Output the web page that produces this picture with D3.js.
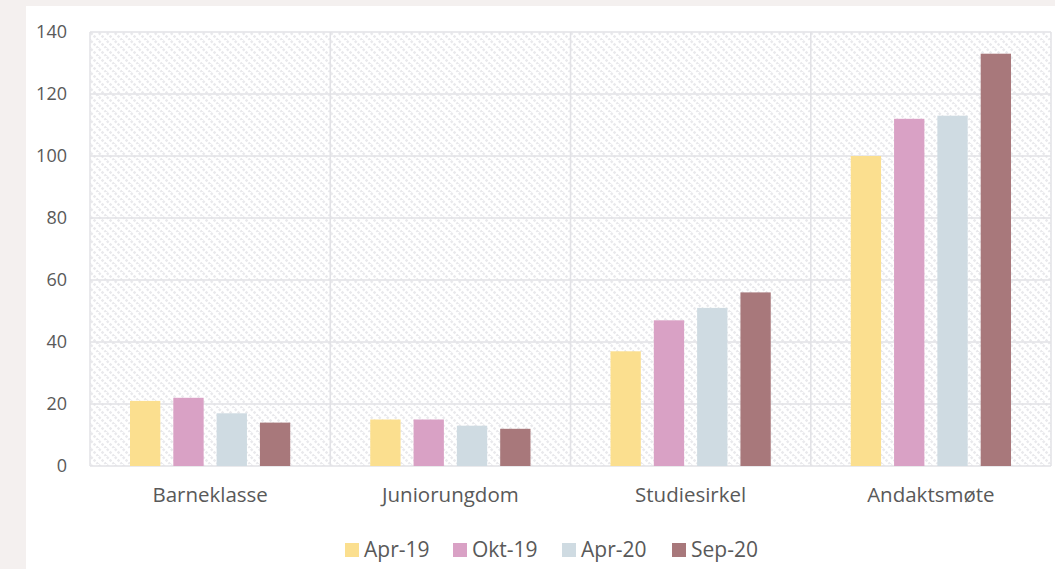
<!DOCTYPE html>
<html>
<head>
<meta charset="utf-8">
<script src="https://cdn.jsdelivr.net/npm/d3@7"></script>
<style>
  body { margin: 0; background: #f4f0ef; }
  svg { display: block; }
</style>
</head>
<body>
<div id="chart"></div>
<script>
    'use strict';

    var categories = ["Barneklasse", "Juniorungdom", "Studiesirkel", "Andaktsmøte"];
    var seriesNames = ["Apr-19", "Okt-19", "Apr-20", "Sep-20"];
    var apr19 = [21, 15, 37, 100];
    var okt19 = [22, 15, 47, 112];
    var apr20 = [17, 13, 51, 113];
    var sep20 = [14, 12, 56, 133];
    var yTicks = [0, 20, 40, 60, 80, 100, 120, 140];

    var colors = ["#fbdf8f", "#d9a1c5", "#cfdbe2", "#a8787b"];
    var seriesValues = [apr19, okt19, apr20, sep20];

    var width = 1055, height = 569;
    var margin = {top: 32, right: 4, bottom: 103, left: 90},
        innerW = width - margin.left - margin.right,
        innerH = height - margin.top - margin.bottom;

    var svg = d3.select("#chart").append("svg")
        .attr("width", width)
        .attr("height", height);

    // white panel
    svg.append("rect")
        .attr("x", 26).attr("y", 6)
        .attr("width", width - 26).attr("height", height - 6)
        .attr("fill", "#ffffff");

    // diagonal hatch behind the bars
    var defs = svg.append("defs");
    var pat = defs.append("pattern")
        .attr("id", "hatch")
        .attr("patternUnits", "userSpaceOnUse")
        .attr("width", 8).attr("height", 8);
    pat.append("path")
        .attr("d", "M-2,-2 L10,10 M-6,2 L2,10 M6,-2 L10,2")
        .attr("stroke", "#e9e9ec")
        .attr("stroke-width", 2.4)
        .attr("stroke-dasharray", "2.5,1.5");

    var g = svg.append("g")
        .attr("transform", "translate(" + margin.left + "," + margin.top + ")");

    var x0 = d3.scaleBand().domain(categories).range([0, innerW]).paddingInner(0).paddingOuter(0);
    var x1 = d3.scaleBand().domain(seriesNames).range([40, x0.bandwidth() - 40]).paddingInner(0.3);
    var y = d3.scaleLinear().domain([0, 140]).range([innerH, 0]);

    g.append("rect")
        .attr("width", innerW).attr("height", innerH)
        .attr("fill", "url(#hatch)");

    // horizontal grid
    g.append("g")
        .selectAll("line")
        .data(yTicks)
        .join("line")
        .attr("x1", 0).attr("x2", innerW)
        .attr("y1", function(d) { return y(d); })
        .attr("y2", function(d) { return y(d); })
        .attr("stroke", "#e2e2e6")
        .attr("stroke-width", 1.5);

    // vertical grid at category boundaries
    var bounds = categories.map(function(c) { return x0(c); }).concat([innerW]);
    g.append("g")
        .selectAll("line")
        .data(bounds)
        .join("line")
        .attr("x1", function(d) { return d; })
        .attr("x2", function(d) { return d; })
        .attr("y1", 0).attr("y2", innerH)
        .attr("stroke", "#e2e2e6")
        .attr("stroke-width", 1.5);

    // bars
    var groups = g.selectAll(".grp")
        .data(categories)
        .join("g")
        .attr("class", "grp")
        .attr("transform", function(c) { return "translate(" + x0(c) + ",0)"; });

    groups.selectAll("rect")
        .data(function(c, i) {
            return seriesNames.map(function(s, j) {
                return {series: s, value: seriesValues[j][i], color: colors[j]};
            });
        })
        .join("rect")
        .attr("x", function(d) { return x1(d.series); })
        .attr("y", function(d) { return y(d.value); })
        .attr("width", x1.bandwidth())
        .attr("height", function(d) { return innerH - y(d.value); })
        .attr("fill", function(d) { return d.color; });

    // y axis
    var yAxis = g.append("g")
        .call(d3.axisLeft(y).tickValues(yTicks).tickSize(0).tickPadding(23));
    yAxis.select(".domain").remove();
    yAxis.selectAll("text")
        .attr("fill", "#595959")
        .style("font-family", "'Open Sans', sans-serif")
        .style("font-size", "18px");

    // x axis
    var xAxis = g.append("g")
        .attr("transform", "translate(0," + innerH + ")")
        .call(d3.axisBottom(x0).tickSize(0).tickPadding(21));
    xAxis.select(".domain").remove();
    xAxis.selectAll("text")
        .attr("fill", "#595959")
        .style("font-family", "'Open Sans', sans-serif")
        .style("font-size", "20.5px");

    // legend
    var legendX = [345, 453, 562, 672];
    var legend = svg.append("g")
        .selectAll("g")
        .data(seriesNames)
        .join("g")
        .attr("transform", function(d, i) { return "translate(" + legendX[i] + ",543)"; });
    legend.append("rect")
        .attr("width", 14).attr("height", 14)
        .attr("fill", function(d, i) { return colors[i]; });
    legend.append("text")
        .attr("x", 19).attr("y", 14)
        .attr("fill", "#595959")
        .style("font-family", "'Open Sans', sans-serif")
        .style("font-size", "21px")
        .text(function(d) { return d; });
</script>
</body>
</html>
